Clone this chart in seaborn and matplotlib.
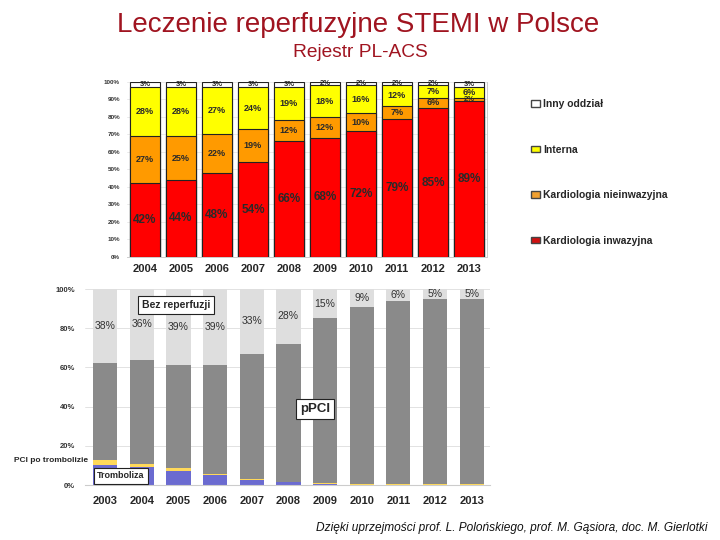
import matplotlib
matplotlib.use("Agg")
import matplotlib.pyplot as plt
from matplotlib.patches import Patch
import seaborn as sns
import pandas as pd

# top chart: where STEMI patients were treated (PL-ACS)
years_top = ["2004", "2005", "2006", "2007", "2008", "2009", "2010", "2011", "2012", "2013"]
kard_inwazyjna = [42, 44, 48, 54, 66, 68, 72, 79, 85, 89]
kard_nieinwazyjna = [27, 25, 22, 19, 12, 12, 10, 7, 6, 2]
interna = [28, 28, 27, 24, 19, 18, 16, 12, 7, 6]
inny_oddzial = [3, 3, 3, 3, 3, 2, 2, 2, 2, 3]

# bottom chart: reperfusion type
years_bottom = ["2003", "2004", "2005", "2006", "2007", "2008", "2009", "2010", "2011", "2012", "2013"]
bez_reperfuzji = [38, 36, 39, 39, 33, 28, 15, 9, 6, 5, 5]
tromboliza = [10, 9, 7, 5, 2.8, 1.4, 0.3, 0.2, 0.2, 0.1, 0.1]
pci_po_trombolizie = [3, 1.5, 1.5, 0.7, 0.3, 0.2, 0.5, 0.2, 0.1, 0.3, 0.3]

sns.set_style("whitegrid")
plt.rcParams["font.family"] = ["Liberation Sans", "DejaVu Sans"]

RED = "#FF0000"
ORANGE = "#FF9A00"
YELLOW = "#FFFF00"
WHITE = "#FFFFFF"

fig = plt.figure(figsize=(7.2, 5.4), dpi=100)
fig.patch.set_facecolor("white")

# ---------- top chart ----------
ax1 = fig.add_axes([127 / 720, 1 - 257 / 540, 360 / 720, 175 / 540])
df_top = pd.DataFrame({"rok": years_top,
                       "inw": kard_inwazyjna,
                       "niein": kard_nieinwazyjna,
                       "interna": interna,
                       "inny": inny_oddzial})
order = ["inw", "niein", "interna", "inny"]
colors = {"inw": RED, "niein": ORANGE, "interna": YELLOW, "inny": WHITE}
cum = df_top[order].cumsum(axis=1)
for col in reversed(order):
    df_top["c_" + col] = cum[col]
    sns.barplot(data=df_top, x="rok", y="c_" + col, color=colors[col], saturation=1,
                edgecolor="#222222", linewidth=0.8, width=0.83, errorbar=None, ax=ax1)

for i in range(len(years_top)):
    bottom = 0
    for col in order:
        val = df_top[col][i]
        if col == "inw":
            fs = 8.5
        elif val < 5:
            fs = 5.5
        else:
            fs = 6.5
        ax1.text(i, bottom + val / 2, f"{val}%", ha="center", va="center",
                 fontsize=fs, fontweight="bold", color="#2a2a2a")
        bottom += val

ax1.set_xlim(-0.5, 9.5)
ax1.set_ylim(0, 100)
ax1.set_yticks(range(0, 101, 10))
ax1.set_yticklabels([f"{v}%" for v in range(0, 101, 10)], fontsize=4.5, fontweight="bold", color="#333333")
ax1.tick_params(axis="x", labelsize=8, length=0, pad=5)
ax1.tick_params(axis="y", length=0, pad=5)
for lab in ax1.get_xticklabels():
    lab.set_fontweight("bold")
ax1.set_xlabel("")
ax1.set_ylabel("")
ax1.grid(axis="y", color="#e6e6e6", linewidth=0.6)
ax1.grid(axis="x", visible=False)
ax1.set_axisbelow(True)
for sp in ax1.spines.values():
    sp.set_color("#cccccc")
    sp.set_linewidth(0.7)
ax1.spines["left"].set_visible(False)
ax1.spines["top"].set_visible(False)

handles = [Patch(facecolor=WHITE, edgecolor="#444444", label="Inny oddział"),
           Patch(facecolor=YELLOW, edgecolor="#444444", label="Interna"),
           Patch(facecolor="#F0A030", edgecolor="#444444", label="Kardiologia nieinwazyjna"),
           Patch(facecolor="#D01010", edgecolor="#444444", label="Kardiologia inwazyjna")]
fig.legend(handles=handles, loc="upper left", bbox_to_anchor=(522 / 720, 1 - 90 / 540),
           frameon=False, handlelength=0.8, handleheight=0.6, handletextpad=0.3,
           labelspacing=3.4, prop={"weight": "bold", "size": 7.5})

# ---------- bottom chart ----------
ax2 = fig.add_axes([85 / 720, 1 - 485 / 540, 405 / 720, 196 / 540])
df_bot = pd.DataFrame({"rok": years_bottom,
                       "bez": bez_reperfuzji,
                       "tl": tromboliza,
                       "pci": pci_po_trombolizie})
df_bot["c_all"] = 100
df_bot["c_ppci"] = 100 - df_bot["bez"]
df_bot["c_pci"] = df_bot["tl"] + df_bot["pci"]
df_bot["c_tl"] = df_bot["tl"]
bot_layers = [("c_all", "#DEDEDE"), ("c_ppci", "#8A8A8A"), ("c_pci", "#FFD95A"), ("c_tl", "#6B6BD0")]
for col, c in bot_layers:
    sns.barplot(data=df_bot, x="rok", y=col, color=c, saturation=1,
                linewidth=0, width=0.66, errorbar=None, ax=ax2)

for i, val in enumerate(bez_reperfuzji):
    ax2.text(i, 100 - val / 2, f"{val}%", ha="center", va="center",
             fontsize=7.5, color="#333333")

ax2.set_xlim(-0.55, 10.5)
ax2.set_ylim(0, 100)
ax2.set_yticks(range(0, 101, 20))
ax2.set_yticklabels([f"{v}%" for v in range(0, 101, 20)], fontsize=5.5, fontweight="bold", color="#333333")
ax2.tick_params(axis="x", labelsize=8, length=0, pad=8)
ax2.tick_params(axis="y", length=0, pad=7)
for lab in ax2.get_xticklabels():
    lab.set_fontweight("bold")
ax2.set_xlabel("")
ax2.set_ylabel("")
ax2.grid(axis="y", color="#dddddd", linewidth=0.6)
ax2.grid(axis="x", visible=False)
ax2.set_axisbelow(True)
for sp in ax2.spines.values():
    sp.set_visible(False)
ax2.spines["bottom"].set_visible(True)
ax2.spines["bottom"].set_color("#cccccc")

box = dict(boxstyle="square,pad=0.35", facecolor="white", edgecolor="#222222", linewidth=0.8)
ax2.text(1.93, 91.8, "Bez reperfuzji", ha="center", va="center", fontsize=7.5,
         fontweight="bold", bbox=box)
ax2.text(5.73, 38.8, "pPCI", ha="center", va="center", fontsize=9.5,
         fontweight="bold", bbox=dict(boxstyle="square,pad=0.28", facecolor="white",
                                      edgecolor="#222222", linewidth=0.8))
ax2.text(0.43, 4.6, "Tromboliza", ha="center", va="center", fontsize=6.5,
         fontweight="bold", bbox=dict(boxstyle="square,pad=0.35", facecolor="white",
                                      edgecolor="#222222", linewidth=0.8))
fig.text(88 / 720, 1 - 461 / 540, "PCI po trombolizie", ha="right", va="center",
         fontsize=6, fontweight="bold")

# ---------- titles ----------
fig.text(0.497, 1 - 32 / 540, "Leczenie reperfuzyjne STEMI w Polsce", ha="center",
         va="baseline", fontsize=20, color="#A01420")
fig.text(0.5, 1 - 57 / 540, "Rejestr PL-ACS", ha="center", va="baseline",
         fontsize=13.8, color="#A01420")
fig.text(316 / 720, 1 - 531 / 540,
         "Dzięki uprzejmości prof. L. Polońskiego, prof. M. Gąsiora, doc. M. Gierlotki",
         ha="left", va="baseline", fontsize=8.6, style="italic", color="#111111")

fig.savefig("out.png", dpi=100)
